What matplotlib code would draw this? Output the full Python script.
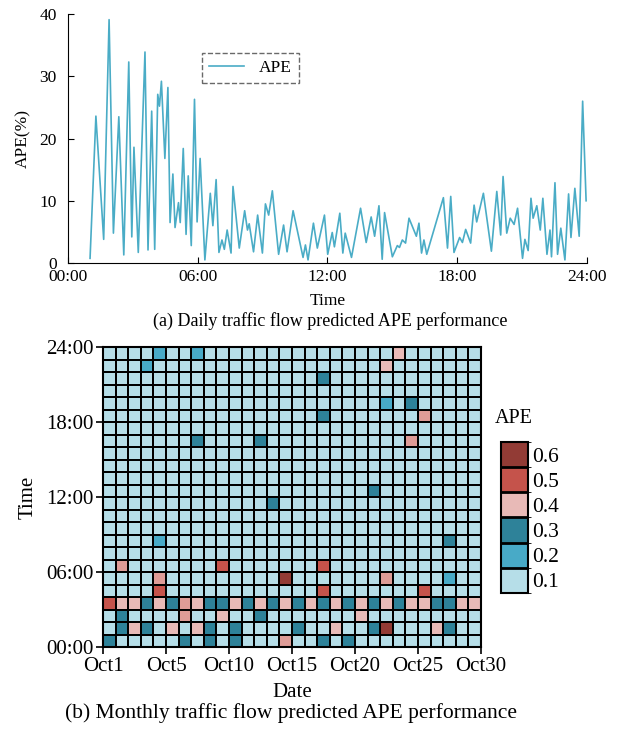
import numpy as np
import matplotlib.pyplot as plt
from matplotlib.colors import LinearSegmentedColormap, ListedColormap, BoundaryNorm
from matplotlib.cm import ScalarMappable

plt.rcParams['font.family'] = ['Liberation Serif', 'DejaVu Serif']

# daily APE curve (hour of day, APE in %)
hours = [1.02, 1.29, 1.65, 1.90, 2.10, 2.35, 2.58, 2.81, 2.95, 3.05,
         3.25, 3.56, 3.70, 3.87, 4.01, 4.15, 4.23, 4.32, 4.48, 4.62,
         4.72, 4.85, 4.95, 5.11, 5.19, 5.33, 5.46, 5.56, 5.70, 5.85,
         5.97, 6.11, 6.33, 6.58, 6.70, 6.85, 6.98, 7.12, 7.23, 7.36,
         7.54, 7.63, 7.92, 8.17, 8.30, 8.38, 8.58, 8.77, 8.99, 9.13,
         9.28, 9.45, 9.74, 9.97, 10.13, 10.41, 10.87, 10.98, 11.10, 11.35,
         11.53, 11.86, 12.01, 12.22, 12.32, 12.57, 12.71, 12.82, 13.11, 13.53,
         13.79, 14.02, 14.18, 14.38, 14.53, 14.64, 15.00, 15.23, 15.33, 15.46,
         15.61, 15.77, 16.11, 16.23, 16.35, 16.46, 16.59, 17.36, 17.55, 17.70,
         17.85, 18.11, 18.24, 18.39, 18.62, 18.78, 18.90, 19.21, 19.58, 19.83,
         20.01, 20.12, 20.29, 20.45, 20.63, 20.79, 21.02, 21.13, 21.28, 21.41,
         21.51, 21.68, 21.84, 21.96, 22.15, 22.29, 22.36, 22.52, 22.64, 22.79,
         22.98, 23.15, 23.26, 23.44, 23.64, 23.80, 23.96]
ape = [0.75, 23.6, 3.8, 39.1, 4.8, 23.5, 1.3, 32.3, 4.2, 18.6,
       1.7, 33.9, 2.1, 24.4, 2.2, 27.1, 25.2, 29.2, 16.8, 28.2,
       6.5, 14.3, 5.7, 9.7, 6.5, 18.4, 4.6, 14.0, 2.8, 26.3,
       6.6, 16.8, 0.5, 11.2, 6.0, 13.4, 1.7, 3.7, 2.2, 5.3,
       1.6, 12.3, 2.4, 8.4, 5.3, 6.3, 1.8, 7.7, 1.6, 9.5,
       7.7, 11.6, 1.4, 6.1, 1.8, 8.4, 0.9, 2.9, 0.5, 6.4,
       2.4, 7.7, 1.4, 4.9, 2.6, 8.0, 1.6, 4.8, 0.9, 8.8,
       3.3, 7.4, 4.3, 9.2, 0.6, 8.1, 1.0, 2.8, 2.5, 3.7,
       3.2, 7.2, 4.3, 6.4, 1.6, 3.7, 1.4, 10.5, 2.4, 10.7,
       1.7, 4.1, 3.3, 5.4, 3.2, 9.3, 6.6, 11.2, 1.9, 11.5,
       4.5, 13.9, 4.8, 7.2, 6.2, 8.8, 0.75, 3.8, 2.0, 10.4,
       7.2, 9.2, 5.3, 10.4, 1.4, 5.3, 1.0, 12.9, 1.4, 5.6,
       0.5, 11.1, 4.1, 12.0, 4.3, 26.0, 10.0]

hour_labels = ['00:00', '06:00', '12:00', '18:00', '24:00']
date_labels = ['Oct1', 'Oct5', 'Oct10', 'Oct15', 'Oct20', 'Oct25', 'Oct30']
ape_levels = [0.1, 0.2, 0.3, 0.4, 0.5, 0.6]
ape_colors = ['#b6dee8', '#48aac7', '#2e8299', '#e8bab7', '#c5534b', '#923b35']

# monthly APE, one row per hour (00:00 first), one column per day Oct1..Oct30
monthly_ape = [
    [.3, .1, .1, .1, .1, .1, .3, .1, .3, .1, .3, .1, .1, .1, .43, .1, .1, .3, .1, .3, .1, .1, .1, .1, .1, .1, .1, .1, .1, .1],
    [.1, .3, .4, .3, .1, .4, .1, .4, .3, .1, .3, .1, .1, .1, .1, .3, .1, .1, .4, .1, .1, .3, .6, .1, .1, .1, .4, .3, .1, .1],
    [.1, .3, .1, .1, .1, .1, .43, .1, .1, .4, .1, .1, .3, .1, .1, .1, .1, .1, .1, .1, .4, .1, .1, .1, .1, .1, .1, .1, .1, .1],
    [.5, .4, .4, .3, .4, .3, .43, .4, .3, .3, .4, .3, .4, .3, .4, .3, .4, .3, .4, .3, .4, .3, .4, .3, .4, .4, .3, .3, .4, .4],
    [.1, .1, .1, .1, .5, .1, .1, .1, .1, .1, .1, .1, .1, .1, .1, .1, .1, .5, .1, .1, .1, .1, .1, .1, .1, .5, .1, .1, .1, .1],
    [.1, .1, .1, .1, .43, .1, .1, .1, .1, .1, .1, .1, .1, .1, .6, .1, .1, .1, .1, .1, .1, .1, .43, .1, .1, .1, .1, .2, .1, .1],
    [.1, .43, .1, .1, .1, .1, .1, .1, .1, .5, .1, .1, .1, .1, .1, .1, .1, .5, .1, .1, .1, .1, .1, .1, .1, .1, .1, .1, .1, .1],
    [.1] * 30,
    [.1, .1, .1, .1, .2, .1, .1, .1, .1, .1, .1, .1, .1, .1, .1, .1, .1, .1, .1, .1, .1, .1, .1, .1, .1, .1, .1, .3, .1, .1],
    [.1] * 30,
    [.1] * 30,
    [.1, .1, .1, .1, .1, .1, .1, .1, .1, .1, .1, .1, .1, .3, .1, .1, .1, .1, .1, .1, .1, .1, .1, .1, .1, .1, .1, .1, .1, .1],
    [.1, .1, .1, .1, .1, .1, .1, .1, .1, .1, .1, .1, .1, .1, .1, .1, .1, .1, .1, .1, .1, .3, .1, .1, .1, .1, .1, .1, .1, .1],
    [.1] * 30,
    [.1] * 30,
    [.1] * 30,
    [.1, .1, .1, .1, .1, .1, .1, .3, .1, .1, .1, .1, .3, .1, .1, .1, .1, .1, .1, .1, .1, .1, .1, .1, .43, .1, .1, .1, .1, .1],
    [.1] * 30,
    [.1, .1, .1, .1, .1, .1, .1, .1, .1, .1, .1, .1, .1, .1, .1, .1, .1, .3, .1, .1, .1, .1, .1, .1, .1, .43, .1, .1, .1, .1],
    [.1, .1, .1, .1, .1, .1, .1, .1, .1, .1, .1, .1, .1, .1, .1, .1, .1, .1, .1, .1, .1, .1, .2, .1, .3, .1, .1, .1, .1, .1],
    [.1] * 30,
    [.1, .1, .1, .1, .1, .1, .1, .1, .1, .1, .1, .1, .1, .1, .1, .1, .1, .3, .1, .1, .1, .1, .1, .1, .1, .1, .1, .1, .1, .1],
    [.1, .1, .1, .2, .1, .1, .1, .1, .1, .1, .1, .1, .1, .1, .1, .1, .1, .1, .1, .1, .1, .1, .4, .1, .1, .1, .1, .1, .1, .1],
    [.1, .1, .1, .1, .2, .1, .1, .2, .1, .1, .1, .1, .1, .1, .1, .1, .1, .1, .1, .1, .1, .1, .1, .4, .1, .1, .1, .1, .1, .1],
]

fig = plt.figure(figsize=(6.21, 7.31), dpi=100)

# ---- (a) daily curve ----
ax1 = fig.add_axes([0.1095, 0.6402, 0.8357, 0.3406])
ax1.plot(hours, ape, color='#4aacc6', linewidth=1.2, label='APE')
ax1.set_xlim(0, 24)
ax1.set_ylim(0, 40)
ax1.set_xticks([0, 6, 12, 18, 24])
ax1.set_xticklabels(hour_labels)
ax1.set_yticks([0, 10, 20, 30, 40])
ax1.tick_params(direction='in', labelsize=12.5, length=4)
ax1.tick_params(axis='y', pad=8)
ax1.tick_params(axis='x', pad=4)
ax1.spines['top'].set_visible(False)
ax1.spines['right'].set_visible(False)
ax1.set_xlabel('Time', fontsize=12.5, labelpad=6)
ax1.set_ylabel('APE(%)', fontsize=12.5, labelpad=6)
leg = ax1.legend(loc='upper left', bbox_to_anchor=(0.258, 0.843), borderaxespad=0,
                 fancybox=False, edgecolor='#444444', fontsize=12.5,
                 handlelength=2.0, handletextpad=0.9, borderpad=0.4)
leg.get_frame().set_linestyle('--')
leg.get_frame().set_linewidth(1.0)
fig.text(0.531, 0.561, '(a) Daily traffic flow predicted APE performance',
         ha='center', va='center', fontsize=13)

# ---- (b) monthly heatmap ----
ax2 = fig.add_axes([0.1659, 0.1149, 0.6087, 0.4104])
grid = np.array(monthly_ape)
pos = [(v - ape_levels[0]) / (ape_levels[-1] - ape_levels[0]) for v in ape_levels]
cmap = LinearSegmentedColormap.from_list('ape', list(zip(pos, ape_colors)))
ax2.pcolormesh(np.arange(grid.shape[1] + 1), np.arange(grid.shape[0] + 1), grid,
               cmap=cmap, vmin=0.1, vmax=0.6, edgecolors='black', linewidth=1.1)
ax2.set_xlim(0, 30)
ax2.set_ylim(0, 24)
ax2.set_xticks([0, 5, 10, 15, 20, 25, 30])
ax2.set_xticklabels(date_labels)
ax2.set_yticks([0, 6, 12, 18, 24])
ax2.set_yticklabels(hour_labels)
ax2.tick_params(direction='out', labelsize=15, length=5, width=1.2, pad=2)
for s in ax2.spines.values():
    s.set_linewidth(1.5)
ax2.set_xlabel('Date', fontsize=15, labelpad=5)
ax2.set_ylabel('Time', fontsize=15, labelpad=6)

cax = fig.add_axes([0.8068, 0.1888, 0.0435, 0.2066])
norm = BoundaryNorm([0.05, 0.15, 0.25, 0.35, 0.45, 0.55, 0.65], 6)
cb = fig.colorbar(ScalarMappable(norm=norm, cmap=ListedColormap(ape_colors)),
                  cax=cax, ticks=ape_levels, drawedges=True)
cb.ax.tick_params(length=0, labelsize=15.5, pad=3)
cb.outline.set_linewidth(1.5)
cb.dividers.set_color('black')
cb.dividers.set_linewidth(2)
fig.text(0.797, 0.428, 'APE', ha='left', va='center', fontsize=14.5)

fig.text(0.469, 0.0246, '(b) Monthly traffic flow predicted APE performance',
         ha='center', va='center', fontsize=15.5)

fig.savefig('out.png', dpi=100)
